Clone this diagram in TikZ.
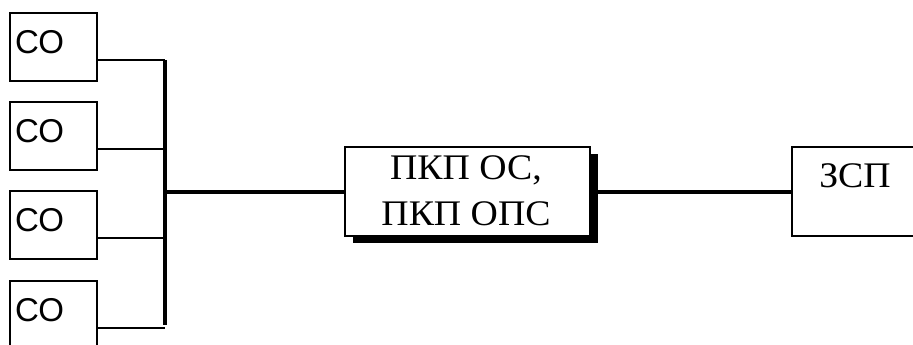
\documentclass[tikz,border=0pt]{standalone}
\usepackage{fontspec}
\setmainfont{Liberation Serif}
\newfontfamily\sansf{Liberation Sans}
\begin{document}
\begin{tikzpicture}[x=1pt,y=-1pt,
  box/.style={draw=black,line width=2.4pt,fill=white,minimum width=87pt,minimum height=68pt,inner sep=0pt,outer sep=0pt},
  sensor/.style={font=\sansf\fontsize{33}{33}\selectfont,anchor=west,inner sep=0pt},
  serif/.style={font=\fontsize{36}{36}\selectfont,inner sep=0pt,xscale=1.05},
  branch/.style={line width=2pt},
  busline/.style={line width=4pt},
  mainline/.style={line width=3.6pt}]
\useasboundingbox (0,0) rectangle (913,345);
\clip (0,0) rectangle (913,345);

% sensor boxes (СО)
\node[box] (c1) at (53.5,47) {};
\node[box] (c2) at (53.5,136) {};
\node[box] (c3) at (53.5,225) {};
\node[box] (c4) at (53.5,315) {};
\foreach \i in {1,...,4}
  \node[sensor] (t\i) at ([xshift=5pt,yshift=5pt]c\i.west) {СО};

% collecting bus
\coordinate (btop) at (165,60);
\coordinate (bbot) at (165,325);
\coordinate (bmid) at (165,192);
\draw[busline] (btop) -- (bbot);
\foreach \i in {1,...,4}
  \draw[branch] ([yshift=-13pt]c\i.east) -- ([yshift=-13pt]c\i.east -| btop);

% control panel with drop shadow
\fill[black] (353,154) rectangle (598,243);
\node[box,minimum width=245pt,minimum height=89pt] (pk) at (467.5,191.5) {};
\node[serif] (pk1) at (466,170) {ПКП ОС,};
\node[serif] (pk2) at (466,214) {ПКП ОПС};

% receiving station
\node[box,minimum width=160pt,minimum height=89pt,anchor=north west] (zsp) at (792,147) {};
\node[serif] (zsp1) at (855,176) {ЗСП};

% trunk lines
\draw[mainline] (bmid) -- (bmid -| pk.west);
\draw[mainline] (pk.east |- bmid) -- (bmid -| zsp.west);
\end{tikzpicture}
\end{document}
